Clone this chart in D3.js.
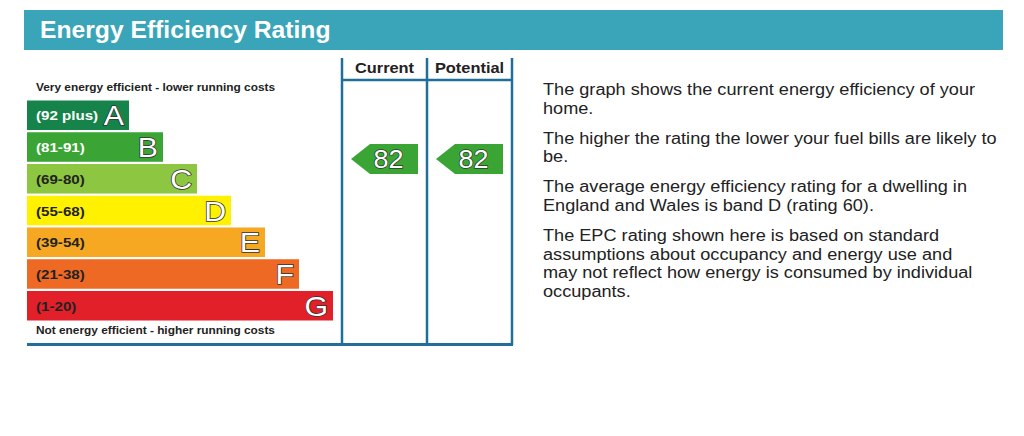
<!DOCTYPE html>
<html><head><meta charset="utf-8">
<script src="https://cdn.jsdelivr.net/npm/d3@7"></script>
<style>body{margin:0;background:#fff}svg{display:block}</style>
</head><body>
<script>
const title = "Energy Efficiency Rating";
const bands = ["A","B","C","D","E","F","G"];
const ranges = ["(92 plus)","(81-91)","(69-80)","(55-68)","(39-54)","(21-38)","(1-20)"];
const bandLevels = [1,2,3,4,5,6,7];
const bandColors = ["#16844a","#3aa535","#8dc641","#fff100","#f7a823","#ee6a24","#e2202a"];
const labelColors = ["#fff","#fff","#222","#222","#222","#222","#222"];
const columns = ["Current","Potential"];
const ratings = [82, 82];
const ratingBands = ["B","B"];
const topNote = "Very energy efficient - lower running costs";
const bottomNote = "Not energy efficient - higher running costs";
const paragraphs = [
  ["The graph shows the current energy efficiency of your","home."],
  ["The higher the rating the lower your fuel bills are likely to","be."],
  ["The average energy efficiency rating for a dwelling in","England and Wales is band D (rating 60)."],
  ["The EPC rating shown here is based on standard","assumptions about occupancy and energy use and","may not reflect how energy is consumed by individual","occupants."]
];

const W = 1024, H = 436;
const svg = d3.select("body").append("svg").attr("width", W).attr("height", H);
const font = "'Liberation Sans', Arial, sans-serif";
const frameColor = "#1f6f98";

function txt(parent, x, y, s, sx, attrs) {
  const t = parent.append("text").attr("transform", `translate(${x},${y}) scale(${sx},1)`).text(s)
    .attr("font-family", font);
  Object.entries(attrs).forEach(([k,v]) => t.attr(k, v));
  return t;
}

// header
svg.append("rect").attr("x",24).attr("y",10).attr("width",979).attr("height",40).attr("fill","#3aa5b9");
txt(svg, 40, 38, title, 1.05, {"font-weight":"bold","font-size":23.5,"fill":"#fff"});

// scales
const y = d3.scaleBand().domain(bands).range([100.5, 320.5]).paddingInner(0.07);
const wScale = d3.scaleLinear().domain([1,7]).range([102, 306]);

const g = svg.append("g");
bands.forEach((b,i)=>{
  const x1 = 27 + wScale(bandLevels[i]);
  g.append("rect").attr("x",27).attr("y",y(b)).attr("width",x1-27).attr("height",y.bandwidth()).attr("fill",bandColors[i]);
  txt(g, 36, y(b)+y.bandwidth()/2+5, ranges[i], 1.12, {"font-weight":"bold","font-size":13.5,"fill":labelColors[i]});
  txt(g, x1-5, y(b)+y.bandwidth()/2+10, b, 1.08, {"text-anchor":"end","font-size":28,"fill":"#fff",
    "stroke":"#333","stroke-width":1.5,"paint-order":"stroke"});
});

txt(svg, 36, 91, topNote, 1.13, {"font-weight":"bold","font-size":10.5,"fill":"#222"});
txt(svg, 36, 334, bottomNote, 1.13, {"font-weight":"bold","font-size":10.5,"fill":"#222"});

// frame
const colX = d3.scalePoint().domain(["L","M","R"]).range([342, 512]);
const fr = svg.append("g").attr("stroke",frameColor).attr("stroke-width",2.5).attr("fill","none");
["L","M","R"].forEach(k=>fr.append("line").attr("x1",colX(k)).attr("x2",colX(k)).attr("y1",58).attr("y2",345));
fr.append("line").attr("x1",342).attr("x2",512).attr("y1",80).attr("y2",80);
fr.append("line").attr("x1",27).attr("x2",513).attr("y1",344.5).attr("y2",344.5).attr("stroke-width",3);

const cols = [["L","M"],["M","R"]];
columns.forEach((c,i)=>{
  const cx = (colX(cols[i][0])+colX(cols[i][1]))/2;
  txt(svg, cx, 73, c, 1.13, {"text-anchor":"middle","font-weight":"bold","font-size":14.5,"fill":"#222"});
  const x0 = colX(cols[i][0]) + 9, x1 = colX(cols[i][1]) - 9;
  const yc = y(ratingBands[i]) + y.bandwidth()/2 + 12;
  const h = 30;
  svg.append("path")
    .attr("d", `M${x0},${yc} L${x0+19},${yc-h/2} L${x1},${yc-h/2} L${x1},${yc+h/2} L${x0+19},${yc+h/2} Z`)
    .attr("fill","#3aa535");
  txt(svg, (x0+x1)/2+4, yc+9, ratings[i], 1.08, {"text-anchor":"middle","font-size":25,"fill":"#fff",
    "stroke":"#2a3a2a","stroke-width":1.4,"paint-order":"stroke"});
});

// description
let ty = 95;
paragraphs.forEach((p)=>{
  p.forEach((line)=>{
    txt(svg, 543, ty, line, 1.12, {"font-size":16.2,"fill":"#222"});
    ty += 18.8;
  });
  ty += 11;
});
</script>
</body></html>
